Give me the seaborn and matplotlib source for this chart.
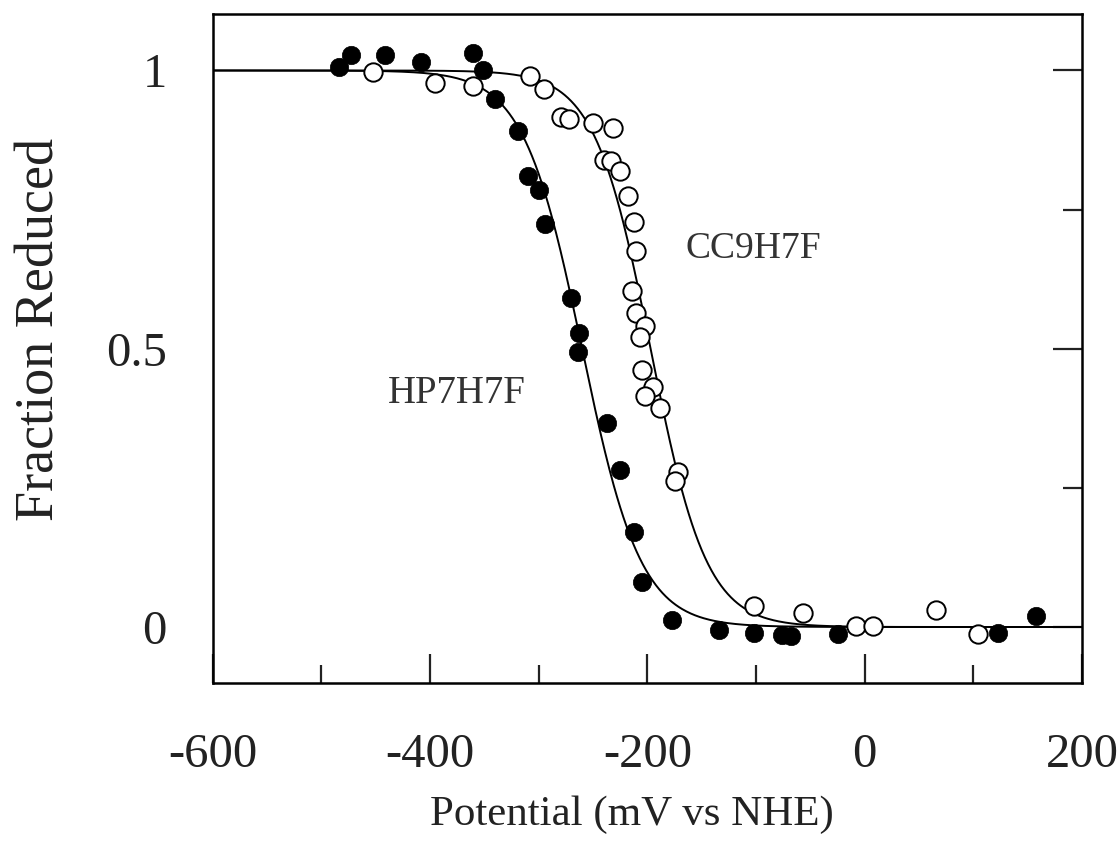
import numpy as np
import pandas as pd
import matplotlib
matplotlib.use("Agg")
import matplotlib.pyplot as plt
import seaborn as sns

# filled circles: HP7H7F
hp_potential = [-484, -473, -441, -408, -360, -351, -340, -319, -310, -300, -294,
                -270, -263, -264, -237, -225, -212, -205, -177, -134, -102, -76,
                -68, -25, 123, 158]
hp_fraction = [1.007, 1.028, 1.028, 1.015, 1.032, 1.000, 0.948, 0.892, 0.810, 0.786, 0.725,
               0.591, 0.528, 0.494, 0.367, 0.282, 0.171, 0.081, 0.013, -0.005, -0.010, -0.014,
               -0.016, -0.013, -0.011, 0.020]

# open circles: CC9H7F
cc_potential = [-452, -395, -360, -308, -295, -279, -272, -250, -232, -240, -233, -225,
                -218, -212, -210, -214, -210, -202, -207, -205, -195, -202, -188, -172,
                -175, -102, -57, -8, 8, 66, 104]
cc_fraction = [0.998, 0.978, 0.972, 0.990, 0.966, 0.917, 0.912, 0.906, 0.896, 0.840, 0.838, 0.820,
               0.774, 0.728, 0.676, 0.604, 0.564, 0.541, 0.522, 0.462, 0.432, 0.415, 0.393, 0.279,
               0.263, 0.037, 0.025, 0.001, 0.002, 0.031, -0.013]

# Nernst fit parameters (midpoint potential, mV; electrons)
hp_e0, hp_n = -260, 0.95
cc_e0, cc_n = -197, 1
RT_F = 25.7

x_ticks = [-600, -400, -200, 0, 200]
x_ticklabels = ["-600", "-400", "-200", "0", "200"]
y_ticks = [0, 0.5, 1]
y_ticklabels = ["0", "0.5", "1"]


def nernst(e, e0, n):
    return 1.0 / (1.0 + np.exp(n * (e - e0) / RT_F))


sns.set_style("ticks")
plt.rcParams["font.family"] = ["Liberation Serif", "DejaVu Serif"]
plt.rcParams["axes.unicode_minus"] = False

fig = plt.figure(figsize=(11.19, 8.59), dpi=100)
ax = fig.add_axes([0.190, 0.2049, 0.777, 0.7788])

grid = np.linspace(-600, 200, 801)
fits = pd.DataFrame({
    "E": np.concatenate([grid, grid]),
    "F": np.concatenate([nernst(grid, hp_e0, hp_n), nernst(grid, cc_e0, cc_n)]),
    "protein": ["HP7H7F"] * len(grid) + ["CC9H7F"] * len(grid),
})
sns.lineplot(data=fits, x="E", y="F", units="protein", estimator=None,
             color="black", linewidth=1.4, ax=ax, zorder=2)

hp_df = pd.DataFrame({"E": hp_potential, "F": hp_fraction})
cc_df = pd.DataFrame({"E": cc_potential, "F": cc_fraction})
sns.scatterplot(data=cc_df, x="E", y="F", marker="o", s=175, facecolor="white",
                edgecolor="black", linewidth=1.4, ax=ax, zorder=3)
sns.scatterplot(data=hp_df, x="E", y="F", marker="o", s=175, color="black",
                edgecolor="black", linewidth=0.5, ax=ax, zorder=4)

ax.set_xlim(-600, 200)
ax.set_ylim(-0.1006, 1.1015)

ax.set_xticks(x_ticks)
ax.set_xticklabels(x_ticklabels)
ax.set_xticks(np.arange(-500, 200, 200), minor=True)
ax.set_yticks(y_ticks)
ax.set_yticklabels(y_ticklabels)
ax.set_yticks([0.25, 0.75], minor=True)

ax.tick_params(axis="x", which="both", direction="in", bottom=True, top=False,
               labelsize=35, colors="#222222", width=1.6, pad=36)
ax.tick_params(axis="x", which="major", length=21)
ax.tick_params(axis="x", which="minor", length=13)
ax.tick_params(axis="y", which="both", direction="in", left=False, right=True,
               labelleft=True, labelright=False, labelsize=35, colors="#222222",
               width=1.6, pad=33)
ax.tick_params(axis="y", which="major", length=21)
ax.tick_params(axis="y", which="minor", length=14)

for side in ["left", "right", "top", "bottom"]:
    ax.spines[side].set_visible(True)
    ax.spines[side].set_linewidth(1.8)
    ax.spines[side].set_color("black")

ax.set_xlabel("Potential (mV vs NHE)", fontsize=31, color="#222222")
ax.set_ylabel("Fraction Reduced", fontsize=39, color="#222222")
ax.xaxis.set_label_coords(0.4823, -0.168)
ax.yaxis.set_label_coords(-0.169, 0.529)

ax.text(-439, 0.42, "HP7H7F", fontsize=28, color="#333333", ha="left", va="center")
ax.text(-165, 0.68, "CC9H7F", fontsize=27, color="#333333", ha="left", va="center")

fig.savefig("out.png", dpi=100)
